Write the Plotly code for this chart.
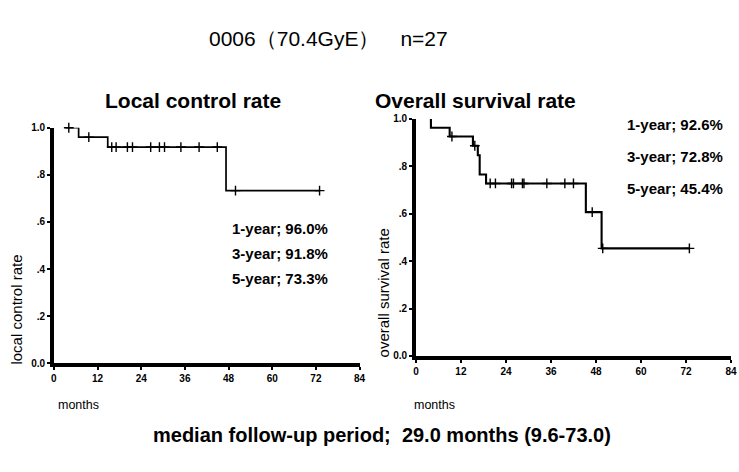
import plotly.graph_objects as go

# ---- Local control (Kaplan-Meier) ----
lc_start = 3.2
lc_event_t = [6.8, 14.8, 47.3]
lc_surv = [0.960, 0.918, 0.733]
lc_end = 73.0
lc_censor_t = [4.1, 9.6, 15.9, 17.1, 20.2, 21.6, 26.6, 29.0, 30.4, 34.9,
               39.9, 44.9, 49.9, 73.0]
lc_labels = ["1-year; 96.0%", "3-year; 91.8%", "5-year; 73.3%"]

# ---- Overall survival (Kaplan-Meier) ----
os_start = 4.0
os_event_t = [4.0, 9.0, 15.2, 16.5, 17.0, 18.7, 45.3, 49.5]
os_surv = [0.963, 0.926, 0.887, 0.847, 0.766, 0.728, 0.607, 0.454]
os_end = 72.9
os_censor_t = [9.6, 15.7, 19.8, 21.2, 25.5, 26.0, 28.4, 28.8, 34.9, 39.7,
               42.0, 47.0, 49.8, 72.9]
os_labels = ["1-year; 92.6%", "3-year; 72.8%", "5-year; 45.4%"]

x_ticks = [0, 12, 24, 36, 48, 60, 72, 84]
y_ticks = [0.0, 0.2, 0.4, 0.6, 0.8, 1.0]
y_ticktext = ["0.0", ".2", ".4", ".6", ".8", "1.0"]

W, H = 739, 472
FONT = "Liberation Sans, Arial, sans-serif"


def step_xy(start, ev_t, surv, end):
    xs = [start] + list(ev_t) + [end]
    ys = [1.0] + list(surv) + [surv[-1]]
    return xs, ys


def surv_at(t, ev_t, surv):
    s = 1.0
    for et, sv in zip(ev_t, surv):
        if t >= et:
            s = sv
    return s


def px(x):
    return x / W


def py(y):
    return 1 - y / H


fig = go.Figure()

panels = [
    ("x", "y", lc_start, lc_event_t, lc_surv, lc_end, lc_censor_t, 1.7),
    ("x2", "y2", os_start, os_event_t, os_surv, os_end, os_censor_t, 2.1),
]
for xa, ya, st, et, sv, en, ct, lw in panels:
    xs, ys = step_xy(st, et, sv, en)
    fig.add_trace(go.Scatter(x=xs, y=ys, mode="lines", line_shape="hv",
                             line=dict(color="black", width=lw),
                             xaxis=xa, yaxis=ya, showlegend=False,
                             hoverinfo="skip", cliponaxis=False))
    fig.add_trace(go.Scatter(x=ct, y=[surv_at(t, et, sv) for t in ct],
                             mode="markers",
                             marker=dict(symbol="cross-thin", size=7,
                                         line=dict(color="black", width=1.4)),
                             xaxis=xa, yaxis=ya, showlegend=False,
                             hoverinfo="skip", cliponaxis=False))

tickfont = dict(family=FONT, size=10, color="black", weight="bold")
xcommon = dict(range=[0, 84], tickvals=x_ticks, showgrid=False, zeroline=False,
               showline=True, linecolor="black", linewidth=3.5, ticks="outside",
               ticklen=3, tickwidth=2, tickcolor="black", tickfont=tickfont)
ycommon = dict(range=[0, 1.0], tickvals=y_ticks, ticktext=y_ticktext,
               showgrid=False, zeroline=False, showline=True,
               linecolor="black", linewidth=3.5, ticks="outside", ticklen=3,
               tickwidth=2, tickcolor="black", tickfont=tickfont)

fig.update_layout(
    width=W, height=H,
    margin=dict(l=0, r=0, t=0, b=0),
    paper_bgcolor="white", plot_bgcolor="white",
    xaxis=dict(domain=[px(51.5), px(361)], anchor="y", **xcommon),
    yaxis=dict(domain=[py(366.7), py(125.7)], anchor="x", **ycommon),
    xaxis2=dict(domain=[px(418), px(737)], anchor="y2", **xcommon),
    yaxis2=dict(domain=[py(359.3), py(116.7)], anchor="x2", **ycommon),
)

ann = []


def text(x, y, s, size, bold=False, angle=0, xanchor="center"):
    ann.append(dict(x=px(x), y=py(y), xref="paper", yref="paper", text=s,
                    showarrow=False, xanchor=xanchor, yanchor="middle",
                    textangle=angle,
                    font=dict(family=FONT, size=size, color="black",
                              weight="bold" if bold else "normal")))


text(330, 34, "0006（70.4GyE）　n=27", 21)
text(192, 98, "Local control rate", 21, bold=True)
text(478, 98, "Overall survival rate", 21, bold=True)
text(384, 440, "median follow-up period;  29.0 months (9.6-73.0)", 20, bold=True)

for i, s in enumerate(lc_labels):
    text(331, 229 + i * 25.5, s, 15, bold=True, xanchor="right")
for i, s in enumerate(os_labels):
    text(731, 122 + i * 33, s, 15, bold=True, xanchor="right")

text(76, 410, "months", 12.5)
text(437, 410, "months", 12.5)
text(14, 312, "local control rate", 15, angle=-90)
text(385, 295, "overall survival rate", 15, angle=-90)

fig.update_layout(annotations=ann)
fig.write_html("out.html")
